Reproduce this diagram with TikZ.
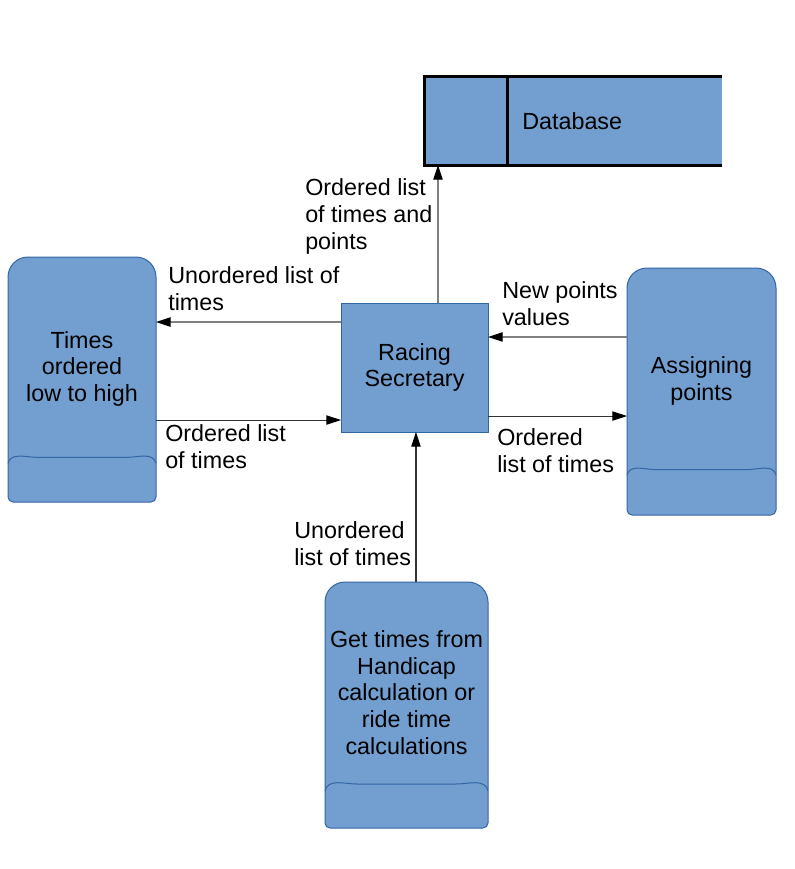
\documentclass[tikz,border=0pt]{standalone}
\usepackage{fontspec}
\setmainfont{Liberation Sans}
\usetikzlibrary{arrows.meta}

\definecolor{boxblue}{HTML}{729FCF}
\definecolor{edgeblue}{HTML}{3465A4}

\tikzset{
  txt/.style={font=\fontsize{17.5}{20}\selectfont},
  proc/.style={rectangle, draw=edgeblue, fill=boxblue, line width=0.75pt, outer sep=0pt, align=center, txt},
  storebox/.style={rectangle, draw=none, inner sep=0pt, outer sep=0pt},
  storeshape/.style={draw=edgeblue, fill=boxblue, line width=0.75pt},
  storetext/.style={align=center, txt},
  lbl/.style={anchor=base west, align=left, inner sep=0pt, txt},
  flow/.style={draw=black!50, line width=1pt, -{Triangle[length=11pt, width=7pt, color=black]}},
  flowdark/.style={flow, draw=black!80, line width=0.8pt},
}

\begin{document}
\begin{tikzpicture}[x=0.75pt, y=-0.75pt]
    \useasboundingbox (0,0) rectangle (794,869);

    % Data store
    \node[rectangle, fill=boxblue, draw=none, outer sep=0pt, minimum width=223.5pt, minimum height=66.75pt] (db) at (573,120.5) {};
    \draw[line width=2.25pt] (db.north east) -- (db.north west) -- (db.south west) -- (db.south east);
    \draw[line width=2.25pt] ([xshift=62.25pt]db.north west) -- ([xshift=62.25pt]db.south west);
    \node[anchor=base west, inner sep=0pt, txt] (dbtext) at (522,129) {Database};

    % Central process
    \node[proc, minimum width=110.25pt, minimum height=96.75pt] (sec) at (414.5,367.5) {Racing\\Secretary};

    % Processes around it
    \node[storebox, minimum width=111pt, minimum height=183.75pt] (times) at (82,379.5) {};
    \draw[storeshape, rounded corners=3.75pt] (times.west) -- (times.south west) -- (times.south east) -- (times.east)
        [rounded corners=15pt] -- (times.north east) -- (times.north west) -- cycle;
    \draw[draw=edgeblue, line width=0.75pt] ([yshift=29pt]times.south west) to[out=75, in=180] ([xshift=22pt, yshift=33.5pt]times.south west)
        -- ([xshift=-22pt, yshift=33.5pt]times.south east) to[out=0, in=105] ([yshift=29pt]times.south east);
    \node[storetext, yshift=8pt] (timestext) at (times) {Times\\ordered\\low to high};

    \node[storebox, minimum width=111.75pt, minimum height=185.25pt] (assign) at (701.5,391.5) {};
    \draw[storeshape, rounded corners=3.75pt] (assign.west) -- (assign.south west) -- (assign.south east) -- (assign.east)
        [rounded corners=15pt] -- (assign.north east) -- (assign.north west) -- cycle;
    \draw[draw=edgeblue, line width=0.75pt] ([yshift=30pt]assign.south west) to[out=75, in=180] ([xshift=22pt, yshift=34pt]assign.south west)
        -- ([xshift=-22pt, yshift=34pt]assign.south east) to[out=0, in=105] ([yshift=30pt]assign.south east);
    \node[storetext, yshift=8pt] (assigntext) at (assign) {Assigning\\points};

    \node[storebox, minimum width=122.25pt, minimum height=184.5pt] (hcap) at (406.5,705) {};
    \draw[storeshape, rounded corners=3.75pt] (hcap.west) -- (hcap.south west) -- (hcap.south east) -- (hcap.east)
        [rounded corners=15pt] -- (hcap.north east) -- (hcap.north west) -- cycle;
    \draw[draw=edgeblue, line width=0.75pt] ([yshift=28pt]hcap.south west) to[out=75, in=180] ([xshift=24pt, yshift=33pt]hcap.south west)
        -- ([xshift=-24pt, yshift=33pt]hcap.south east) to[out=0, in=105] ([yshift=28pt]hcap.south east);
    \node[storetext, yshift=9.4pt] (hcaptext) at (hcap) {Get times from\\Handicap\\calculation or\\ride time\\calculations};

    % Flows
    \coordinate (up) at ([xshift=17.6pt]sec.north);
    \draw[flow] (up) -- (up |- db.south);
    \coordinate (tolow) at ([yshift=34.1pt]sec.west);
    \draw[flow] (tolow) -- (tolow -| times.east);
    \coordinate (fromlow) at ([yshift=-30.4pt]times.east);
    \draw[flowdark] (fromlow) -- (fromlow -| sec.west);
    \coordinate (newpts) at ([yshift=40.9pt]assign.west);
    \draw[flow] (newpts) -- (newpts -| sec.east);
    \coordinate (toassign) at ([yshift=-36.4pt]sec.east);
    \draw[flowdark] (toassign) -- (toassign -| assign.west);
    \coordinate (fromhcap) at ([xshift=7.1pt]hcap.north);
    \draw[flowdark] (fromhcap) -- (fromhcap |- sec.south);

    % Flow labels (placed at the baseline of their last line)
    \node[lbl] (lblup) at (305,249) {Ordered list\\of times and\\points};
    \node[lbl] (lbltolow) at (168,310) {Unordered list of\\times};
    \node[lbl] (lblfromlow) at (165,468) {Ordered list\\of times};
    \node[lbl] (lblnewpts) at (502,325) {New points\\values};
    \node[lbl] (lbltoassign) at (497,472) {Ordered\\list of times};
    \node[lbl] (lblfromhcap) at (294,565) {Unordered\\list of times};
\end{tikzpicture}
\end{document}
